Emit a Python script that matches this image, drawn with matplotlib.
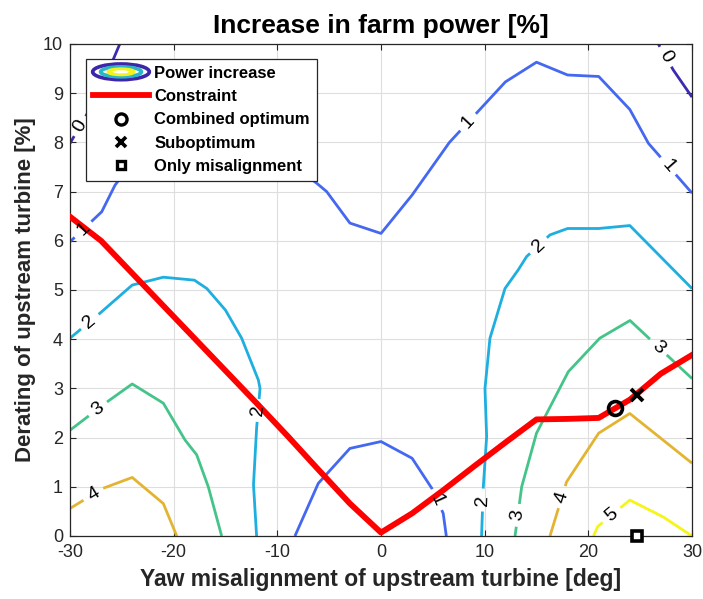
import numpy as np
import matplotlib
matplotlib.use("Agg")
import matplotlib.pyplot as plt
from matplotlib.lines import Line2D
from matplotlib.patches import Ellipse
from matplotlib.legend_handler import HandlerBase

plt.rcParams['font.family'] = ['Liberation Sans', 'DejaVu Sans']
plt.rcParams['axes.unicode_minus'] = False

# ---------------- data ----------------
# contour levels and their colours
levels = [0, 1, 2, 3, 4, 5]
level_colors = ['#3B2BB0', '#4468F0', '#1EAEE0', '#45C489', '#E3B432', '#F5F51A']

# contour pieces: (level, x values, y values, label positions [(x, y)])
c0a_x = [-25.2, -25.8, -27.0, -28.3, -30.0]
c0a_y = [10.0, 9.7, 9.2, 8.6, 7.98]
c0a_lab = [(-29.04, 8.33)]

c0b_x = [26.75, 28.2, 30.0]
c0b_y = [10.0, 9.47, 8.92]
c0b_lab = [(27.45, 9.74)]

c1a_x = [-30.0, -26.94, -25.66, -24.0, -21.0, -18.0, -15.0, -12.0, -9.0, -6.2,
         -5.24, -3.0, 0.0, 3.0, 6.6, 12.0, 15.0, 18.0, 21.0, 24.0, 25.8, 30.0]
c1a_y = [5.98, 6.59, 7.13, 7.6, 8.0, 8.2, 8.2, 8.0, 7.6, 7.17,
         7.0, 6.36, 6.15, 6.93, 8.0, 9.23, 9.63, 9.37, 9.34, 8.67, 7.98, 6.97]
c1a_lab = [(-28.7, 6.22), (8.4, 8.41), (27.7, 7.52)]

c1b_x = [-8.3, -6.05, -3.0, 0.0, 3.0, 4.9, 6.0, 6.3]
c1b_y = [0.0, 1.07, 1.78, 1.92, 1.58, 0.97, 0.46, 0.0]
c1b_lab = [(5.4, 0.74)]

c2a_x = [-30.0, -27.1, -24.0, -21.0, -18.0, -16.8, -15.0, -13.44, -11.83, -11.67,
         -12.0, -12.3, -12.0]
c2a_y = [4.02, 4.53, 5.1, 5.26, 5.2, 5.03, 4.59, 4.02, 3.17, 3.0,
         2.19, 1.04, 0.0]
c2a_lab = [(-28.07, 4.35), (-11.75, 2.55)]

c2b_x = [9.7, 9.87, 10.19, 10.03, 10.51, 11.96, 13.24, 14.05, 16.3, 18.0, 21.0, 24.0, 30.0]
c2b_y = [0.0, 1.0, 2.02, 3.0, 4.02, 5.03, 5.41, 5.68, 6.12, 6.25, 6.25, 6.31, 5.03]
c2b_lab = [(9.95, 0.73), (15.2, 5.9)]

c3a_x = [-30.0, -26.46, -24.0, -21.0, -18.9, -17.78, -16.66, -15.37]
c3a_y = [2.15, 2.72, 3.09, 2.7, 1.95, 1.65, 1.0, 0.0]
c3a_lab = [(-27.3, 2.58)]

c3b_x = [12.93, 13.57, 15.0, 18.07, 21.1, 24.02, 30.0]
c3b_y = [0.0, 1.0, 2.09, 3.34, 4.02, 4.38, 3.2]
c3b_lab = [(13.2, 0.42), (26.75, 3.84)]

c4a_x = [-30.0, -26.8, -24.0, -21.0, -19.7]
c4a_y = [0.56, 0.97, 1.19, 0.66, 0.0]
c4a_lab = [(-27.75, 0.85)]

c4b_x = [16.3, 17.9, 21.0, 24.0, 30.0]
c4b_y = [0.0, 1.1, 2.09, 2.49, 1.48]
c4b_lab = [(17.45, 0.79)]

c5_x = [20.5, 20.9, 24.0, 27.2, 30.0]
c5_y = [0.0, 0.19, 0.73, 0.39, 0.0]
c5_lab = [(22.25, 0.42)]

contour_pieces = [
    (0, c0a_x, c0a_y, c0a_lab), (0, c0b_x, c0b_y, c0b_lab),
    (1, c1a_x, c1a_y, c1a_lab), (1, c1b_x, c1b_y, c1b_lab),
    (2, c2a_x, c2a_y, c2a_lab), (2, c2b_x, c2b_y, c2b_lab),
    (3, c3a_x, c3a_y, c3a_lab), (3, c3b_x, c3b_y, c3b_lab),
    (4, c4a_x, c4a_y, c4a_lab), (4, c4b_x, c4b_y, c4b_lab),
    (5, c5_x, c5_y, c5_lab),
]

# constraint line
constraint_x = [-30, -27, -24, -21, -18, -15, -12, -9, -6, -3, 0, 3, 6, 9, 12, 15, 18, 21, 24, 27, 30]
constraint_y = [6.49, 6.0, 5.34, 4.68, 4.02, 3.36, 2.70, 2.03, 1.34, 0.66, 0.07,
                0.46, 0.93, 1.42, 1.9, 2.37, 2.38, 2.4, 2.77, 3.3, 3.68]

# optimum points
combined_opt = (22.57, 2.6)
sub_opt = (24.66, 2.87)
only_mis = (24.66, 0.0)

x_ticks = [-30, -20, -10, 0, 10, 20, 30]
y_ticks = list(range(0, 11))

# ---------------- figure ----------------
fig = plt.figure(figsize=(7.03, 5.99), dpi=100)
ax = fig.add_axes([70/703, 63/599, 622/703, 492/599])
ax.set_xlim(-30, 30)
ax.set_ylim(0, 10)
ax.set_xticks(x_ticks)
ax.set_yticks(y_ticks)
ax.grid(True, color='#dedede', lw=0.8)
ax.set_axisbelow(True)
dark = '#262626'
for s in ax.spines.values():
    s.set_color(dark)
    s.set_linewidth(0.9)
ax.tick_params(direction='in', length=4, top=True, right=True, labelsize=13,
               colors=dark, width=0.8)
ax.tick_params(axis='x', pad=6)
ax.tick_params(axis='y', pad=5)

trans = ax.transData
inv = trans.inverted()
GAP = 11.5  # half gap in pixels


def draw_piece(level, xs, ys, labs):
    col = level_colors[levels.index(level)]
    P = trans.transform(np.column_stack([xs, ys]))
    seg = P[1:] - P[:-1]
    seglen = np.hypot(seg[:, 0], seg[:, 1])
    cum = np.concatenate([[0], np.cumsum(seglen)])
    cuts = []
    for (lx, ly) in labs:
        q = trans.transform((lx, ly))
        best = None
        for i in range(len(seg)):
            t = np.dot(q - P[i], seg[i]) / max(seglen[i] ** 2, 1e-9)
            t = min(max(t, 0), 1)
            proj = P[i] + t * seg[i]
            d = np.hypot(*(q - proj))
            if best is None or d < best[0]:
                best = (d, i, t, proj)
        _, i, t, proj = best
        s0 = cum[i] + t * seglen[i]
        ang = np.degrees(np.arctan2(seg[i][1], seg[i][0]))
        if ang > 90:
            ang -= 180
        if ang <= -90:
            ang += 180
        cuts.append((s0 - GAP, s0 + GAP))
        dp = inv.transform(proj)
        ax.text(dp[0], dp[1], str(level), rotation=ang, rotation_mode='anchor',
                ha='center', va='center', fontsize=14, color='black', zorder=4)

    def point_at(s):
        i = np.searchsorted(cum, s) - 1
        i = min(max(i, 0), len(seg) - 1)
        t = (s - cum[i]) / max(seglen[i], 1e-9)
        return P[i] + t * seg[i]

    # build visible intervals
    intervals = [(0, cum[-1])]
    for (a, b) in cuts:
        new = []
        for (u, v) in intervals:
            if b <= u or a >= v:
                new.append((u, v))
            else:
                if a > u:
                    new.append((u, a))
                if b < v:
                    new.append((b, v))
        intervals = new
    for (u, v) in intervals:
        pts = [point_at(u)]
        for k in range(len(cum)):
            if u < cum[k] < v:
                pts.append(P[k])
        pts.append(point_at(v))
        d = inv.transform(np.array(pts))
        ax.plot(d[:, 0], d[:, 1], color=col, lw=2.0, zorder=2,
                solid_capstyle='butt', clip_on=True)


for (lev, xs, ys, labs) in contour_pieces:
    draw_piece(lev, xs, ys, labs)

ax.plot(constraint_x, constraint_y, color='#FF0000', lw=4.2, zorder=3,
        solid_joinstyle='round')
ax.plot([combined_opt[0]], [combined_opt[1]], 'o', ms=10, mfc='none', mec='black',
        mew=2.6, zorder=5)
ax.plot([sub_opt[0]], [sub_opt[1]], 'x', ms=9, mec='black', mew=2.8, zorder=5)
ax.plot([only_mis[0]], [only_mis[1]], 's', ms=7, mfc='white', mec='black',
        mew=2.6, zorder=5, clip_on=False)

ax.set_title('Increase in farm power [%]', fontsize=19, fontweight='bold', pad=8,
             color='black')
ax.set_xlabel('Yaw misalignment of upstream turbine [deg]', fontsize=16.5,
              fontweight='bold', color=dark, labelpad=5)
ax.set_ylabel('Derating of upstream turbine [%]', fontsize=16, fontweight='bold',
              color=dark, labelpad=5)


# legend
class ContourIconHandler(HandlerBase):
    def create_artists(self, legend, orig_handle, xdescent, ydescent, width,
                       height, fontsize, trans):
        cx = width / 2 - xdescent
        cy = height / 2 - ydescent
        arts = []
        spec = [(1.0, 1.35, '#3E26A8', 2.6), (0.72, 0.85, '#2BB5C8', 2.6),
                (0.45, 0.45, '#F2F21E', 2.6), (0.2, 0.08, 'white', 1.5)]
        for fw, fh, c, lw in spec:
            e = Ellipse((cx, cy), width * fw, height * fh, facecolor='none',
                        edgecolor=c, lw=lw, transform=trans)
            arts.append(e)
        return arts


h_contour = Line2D([], [], color='#3E26A8')
h_con = Line2D([], [], color='#FF0000', lw=4.2)
h_co = Line2D([], [], ls='none', marker='o', ms=8, mfc='none', mec='black', mew=2.4)
h_so = Line2D([], [], ls='none', marker='x', ms=7, mec='black', mew=2.6)
h_om = Line2D([], [], ls='none', marker='s', ms=6, mfc='white', mec='black', mew=2.4)
leg = ax.legend([h_contour, h_con, h_co, h_so, h_om],
                ['Power increase', 'Constraint', 'Combined optimum', 'Suboptimum',
                 'Only misalignment'],
                handler_map={h_contour: ContourIconHandler()},
                loc='upper left', bbox_to_anchor=(16/622, 1 - 15/492),
                borderaxespad=0, prop={'weight': 'bold', 'size': 12},
                handlelength=3.4, handletextpad=0.3, labelspacing=0.5,
                borderpad=0.4, fancybox=False, framealpha=1, edgecolor=dark)
leg.get_frame().set_linewidth(0.9)
leg.set_zorder(10)

fig.savefig('out.png', dpi=100)
